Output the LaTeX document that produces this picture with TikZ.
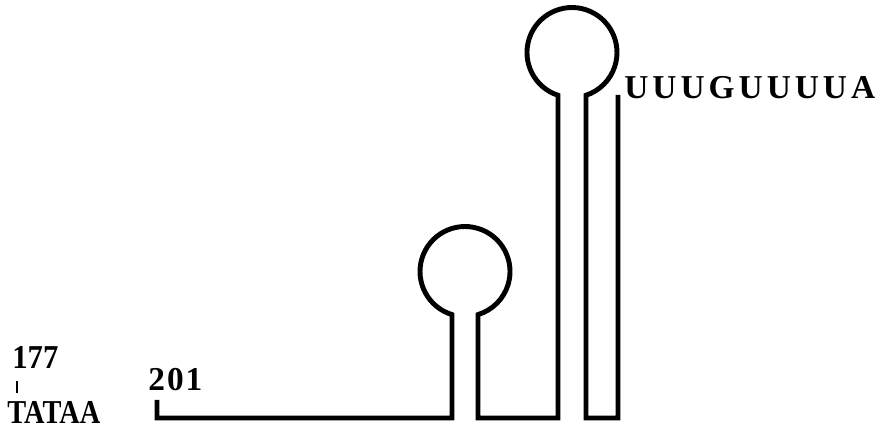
\documentclass[tikz,border=0pt]{standalone}
\usepackage{fontspec}
\setmainfont{Liberation Serif}
\usetikzlibrary{positioning}
\tikzset{
  lbl/.style={font=\bfseries\fontsize{19}{19}\selectfont,inner sep=0pt},
  stem/.style={line width=2.8pt},
  tick/.style={line width=1.5pt}
}

\begin{document}
\begin{tikzpicture}[x=0.02cm,y=0.02cm]
  \useasboundingbox (0,0) rectangle (881,431);
  % labels
  \node[lbl,anchor=base west] (n177) at (12,62) {\addfontfeature{FakeStretch=0.92}177};
  \node[lbl,anchor=base west] (tataa) at (7,7) {\addfontfeature{FakeStretch=0.85}TATAA};
  \node[lbl,anchor=base west] (n201) at (148,40) {\addfontfeature{LetterSpace=6}201};
  \node[lbl,anchor=base west] (polyu) at (624,332) {\addfontfeature{LetterSpace=12}UUUGUUUUA};
  % ticks
  \coordinate (a1) at (17,50);
  \coordinate (a2) at (17,38);
  \coordinate (S) at (157,31);
  \coordinate (E) at (618,336);
  \draw[tick] (a1) -- (a2);
  % transcript with two hairpins
  \draw[stem] (S) -- (157,13) -- (452,13) -- (452,116.4)
    arc[start angle=253.2,end angle=-73.2,radius=45] -- (478,13)
    -- (558,13) -- (558,335.7)
    arc[start angle=251.9,end angle=-71.9,radius=45] -- (586,13)
    -- (618,13) -- (E);
\end{tikzpicture}
\end{document}
